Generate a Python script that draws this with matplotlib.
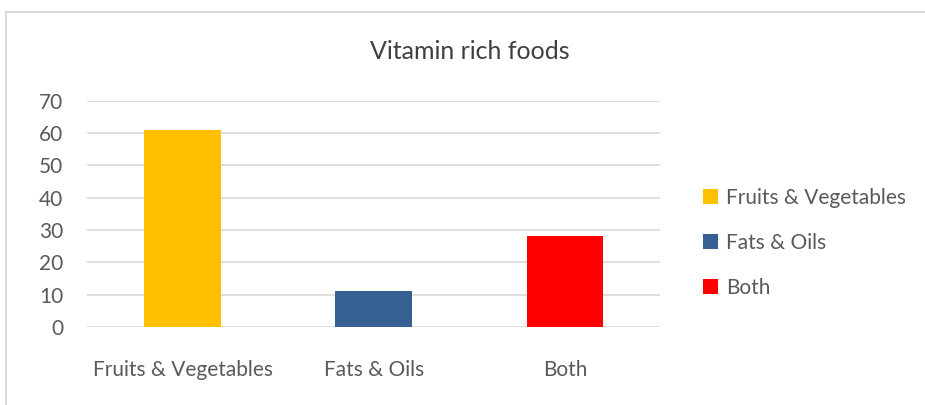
import matplotlib
matplotlib.use('Agg')
import matplotlib.pyplot as plt
from matplotlib.patches import Patch
from matplotlib.lines import Line2D

# chart data
categories = ['Fruits & Vegetables', 'Fats & Oils', 'Both']
values = [61, 11, 28]
colors = ['#FFC000', '#366092', '#FF0000']
yticks = [0, 10, 20, 30, 40, 50, 60, 70]

plt.rcParams['font.family'] = ['Lato', 'DejaVu Sans']
txt = '#595959'

fig = plt.figure(figsize=(9.25, 4.05), dpi=100)
ax = fig.add_axes([0.094, 0.193, 0.620, 0.558])

x = range(len(categories))
ax.bar(x, values, width=0.4, color=colors, zorder=3)

ax.set_xlim(-0.5, len(categories) - 0.5)
ax.set_ylim(0, 70)
ax.set_yticks(yticks)
ax.set_xticks(list(x))
ax.set_xticklabels(categories)
ax.grid(axis='y', color='#D9D9D9', linewidth=1.2, zorder=0)
for s in ax.spines.values():
    s.set_visible(False)
ax.tick_params(length=0, labelsize=15, colors=txt)
ax.tick_params(axis='y', pad=17)
ax.tick_params(axis='x', pad=24)

fig.text(0.508, 0.872, 'Vitamin rich foods', ha='center', va='center',
         fontsize=18, color='#404040')

handles = [Patch(facecolor=c, edgecolor='none') for c in colors]
leg = fig.legend(handles, categories, loc='center left',
                 bbox_to_anchor=(0.740, 0.40), frameon=False,
                 fontsize=15, labelspacing=1.2, handlelength=0.7,
                 handleheight=0.7, handletextpad=0.4)
for t in leg.get_texts():
    t.set_color(txt)

# outer chart border (top and left visible)
fig.add_artist(Line2D([0.006, 0.006], [0, 0.971], transform=fig.transFigure,
                      color='#D9D9D9', linewidth=1.5))
fig.add_artist(Line2D([0.006, 1.0], [0.971, 0.971], transform=fig.transFigure,
                      color='#D9D9D9', linewidth=1.5))

fig.savefig('out.png', dpi=100, facecolor='white')
